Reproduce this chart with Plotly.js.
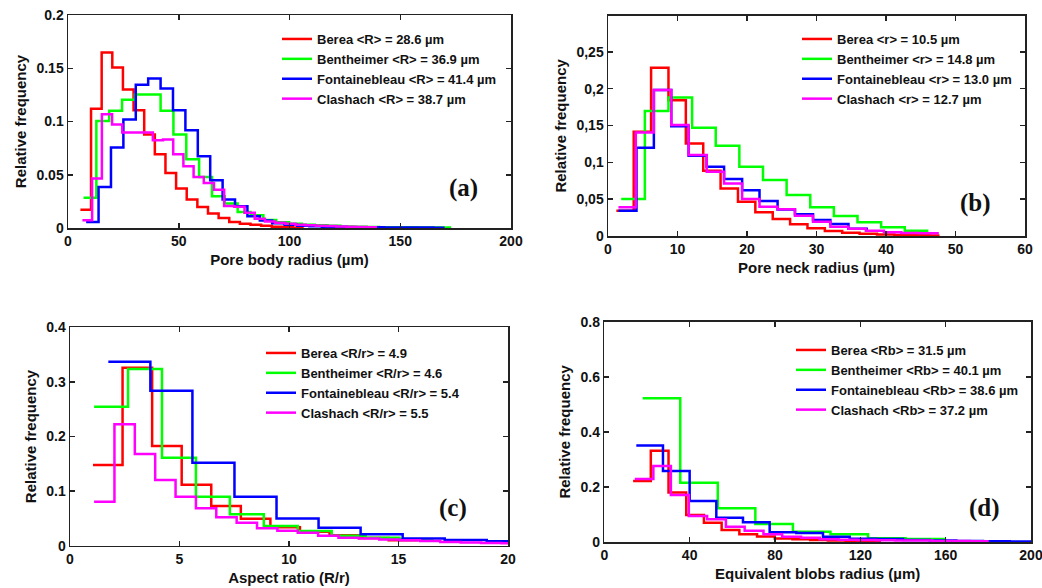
<!DOCTYPE html>
<html><head><meta charset="utf-8">
<script src="https://cdn.plot.ly/plotly-3.0.1.min.js"></script>
<style>html,body{margin:0;padding:0;background:#fff}#chart{width:1042px;height:588px}</style>
</head><body><div id="chart"></div>
<script>
// ---------- DATA ----------
const rocks = ['Berea', 'Bentheimer', 'Fontainebleau', 'Clashach'];
const colors = ['#ff0000', '#00ff00', '#0000ff', '#ff00ff'];

// (a) Pore body radius (µm) – bin edges and relative frequency
const aBereaX = [5.6,10.4,15.2,20.0,24.8,29.6,34.4,39.2,44.0,48.8,53.6,58.4,63.2,68.0,72.8,77.6,82.4,87.2,92.0,96.8,101.6,106.4];
const aBereaY = [0.0172,0.112,0.1647,0.1506,0.130,0.1105,0.0877,0.0692,0.0517,0.037,0.0267,0.0197,0.0135,0.0094,0.0056,0.0041,0.003,0.002,0.0012,0.0006,0.0003];
const aBenthX = [7.0,12.8,18.6,24.4,30.2,36.0,41.8,47.6,53.4,59.2,65.0,70.8,76.6,82.4,88.2,94.0,99.8,105.6,111.4,117.2,123.0,128.8,134.6,140.4,146.2,152.0,157.8,163.6,169.4,173.0];
const aBenthY = [0.0285,0.1005,0.110,0.1205,0.1253,0.1253,0.110,0.0877,0.0645,0.0479,0.0298,0.0229,0.015,0.0119,0.0075,0.0055,0.004,0.003,0.0025,0.002,0.0015,0.0012,0.001,0.0008,0.0007,0.0006,0.0005,0.0005,0.0004];
const aFontX = [8.2,13.8,19.4,25.0,30.6,36.2,41.8,47.4,53.0,58.6,64.2,69.8,75.4,81.0,86.6,92.2,97.8,103.4,109.0,114.6,120.2,125.8,131.4,137.0,142.6,148.2,153.8,159.4,165.0,170.0];
const aFontY = [0.0056,0.0385,0.0755,0.1018,0.1346,0.1403,0.1309,0.1105,0.0917,0.0673,0.0448,0.0267,0.0204,0.011,0.007,0.0045,0.003,0.0022,0.0016,0.0012,0.001,0.0008,0.0007,0.0006,0.0005,0.0005,0.0004,0.0004,0.0003];
const aClasX = [6.5,10.9,15.3,19.9,24.5,29.1,33.7,38.3,42.9,47.5,52.1,56.7,61.3,65.9,70.5,75.1,79.7,84.3,88.9,93.5,98.1,102.7,107.3,111.9,116.5,121.1,125.7,130.3,134.9,139.5];
const aClasY = [0.0072,0.0464,0.1068,0.0971,0.0896,0.0896,0.0896,0.0823,0.083,0.0692,0.058,0.0478,0.0423,0.036,0.0207,0.02,0.0144,0.0088,0.006,0.005,0.004,0.003,0.0025,0.002,0.0018,0.0015,0.0012,0.001,0.0008];
const aLabels = ['Berea &lt;R&gt; = 28.6 µm', 'Bentheimer &lt;R&gt; = 36.9 µm', 'Fontainebleau &lt;R&gt; = 41.4 µm', 'Clashach &lt;R&gt; = 38.7 µm'];

// (b) Pore neck radius (µm)
const bBereaX = [1.2,3.7,6.2,8.7,11.2,13.7,16.2,18.7,21.2,23.7,26.2,28.7,31.2,33.7,36.2,38.7,41.2,43.7,46.2,47.7];
const bBereaY = [0.0344,0.1415,0.2283,0.1844,0.1257,0.0886,0.0646,0.0466,0.0321,0.0231,0.0158,0.0104,0.0068,0.0045,0.003,0.002,0.0015,0.001,0.0008];
const bBenthX = [1.9,5.3,8.7,12.1,15.5,18.9,22.3,25.7,29.1,32.5,35.9,39.3,42.7,46.1];
const bBenthY = [0.0502,0.1695,0.188,0.147,0.1225,0.094,0.076,0.0556,0.0389,0.0271,0.0185,0.0118,0.0072];
const bFontX = [1.5,4.1,6.6,9.1,11.6,14.2,16.7,19.3,21.8,24.4,26.9,29.5,32.0,34.6,37.4];
const bFontY = [0.0344,0.1198,0.198,0.149,0.109,0.094,0.0773,0.062,0.0475,0.036,0.0294,0.0217,0.0163,0.010];
const bClasX = [1.5,4.0,6.6,9.1,11.6,14.2,16.7,19.3,21.8,24.4,26.9,29.5,32.0,34.6,37.1,39.7,42.2,44.8,47.6];
const bClasY = [0.0389,0.1406,0.198,0.1505,0.1099,0.0873,0.0714,0.0502,0.0398,0.0362,0.0276,0.0194,0.0127,0.010,0.0072,0.005,0.004,0.0036];
const bLabels = ['Berea &lt;r&gt; = 10.5 µm', 'Bentheimer &lt;r&gt; = 14.8 µm', 'Fontainebleau &lt;r&gt; = 13.0 µm', 'Clashach &lt;r&gt; = 12.7 µm'];
const bYTickVals = [0, 0.05, 0.1, 0.15, 0.2, 0.25];
const bYTickText = ['0', '0,05', '0,1', '0,15', '0,2', '0,25'];

// (c) Aspect ratio (R/r)
const cBereaX = [1.05,2.4,3.75,5.1,6.45,7.8,9.15,10.5,11.85,13.2,14.55,15.9];
const cBereaY = [0.1478,0.326,0.1826,0.1115,0.0725,0.0495,0.034,0.0256,0.019,0.014,0.01];
const cBenthX = [1.1,2.65,4.2,5.75,7.3,8.85,10.4,11.95,13.5,15.05,16.6];
const cBenthY = [0.2547,0.3237,0.1612,0.0898,0.0574,0.036,0.0269,0.0183,0.0147,0.0116];
const cFontX = [1.75,3.67,5.59,7.51,9.43,11.35,13.27,15.19,17.11,19.03,20.5];
const cFontY = [0.337,0.284,0.152,0.0898,0.050,0.033,0.0208,0.0134,0.0104,0.008];
const cClasX = [1.1,2.03,2.96,3.89,4.82,5.75,6.68,7.61,8.54,9.47,10.4,11.33,12.26,13.19,14.12,15.05,15.98,16.91,17.84,18.77,19.7,20.63];
const cClasY = [0.0806,0.2223,0.168,0.1203,0.0898,0.0684,0.0519,0.0421,0.0318,0.0275,0.0238,0.0183,0.0147,0.013,0.0115,0.01,0.0085,0.007,0.006,0.005,0.0045];
const cLabels = ['Berea &lt;R/r&gt; = 4.9', 'Bentheimer &lt;R/r&gt; = 4.6', 'Fontainebleau &lt;R/r&gt; = 5.4', 'Clashach &lt;R/r&gt; = 5.5'];

// (d) Equivalent blobs radius (µm)
const dBereaX = [13.5,21.8,30.1,38.4,46.7,55.0,63.3,71.6,79.9,88.2,96.5,104.8,113.1,121.4,129.7];
const dBereaY = [0.2215,0.331,0.180,0.098,0.070,0.0436,0.028,0.020,0.013,0.0097,0.007,0.005,0.004,0.003];
const dBenthX = [18.0,35.6,53.2,70.8,88.4,106.0,123.6,141.2,160.0];
const dBenthY = [0.5216,0.2154,0.1222,0.0654,0.0375,0.0278,0.0133,0.011];
const dFontX = [15.0,27.5,40.0,52.5,65.0,77.5,90.0,102.5,115.0,127.5,140.0,152.5,165.0,177.5,190.0,200.0];
const dFontY = [0.350,0.258,0.149,0.0884,0.0714,0.035,0.033,0.0194,0.0121,0.011,0.007,0.005,0.004,0.003,0.002];
const dClasX = [14.3,23.0,31.2,39.6,48.2,57.0,65.8,74.6,83.4,92.2,101.0,109.8,118.6,127.4,136.2,145.0,153.8,162.6,171.4,180.2];
const dClasY = [0.2287,0.276,0.1707,0.094,0.0824,0.0556,0.041,0.0278,0.0194,0.0157,0.0097,0.008,0.007,0.006,0.005,0.005,0.004,0.004,0.003];
const dLabels = ['Berea &lt;Rb&gt; = 31.5 µm', 'Bentheimer &lt;Rb&gt; = 40.1 µm', 'Fontainebleau &lt;Rb&gt; = 38.6 µm', 'Clashach &lt;Rb&gt; = 37.2 µm'];

// ---------- LAYOUT HELPERS ----------
const W = 1042, H = 588;
const px = v => v / W;
const py = v => 1 - v / H;
const SANS = 'Liberation Sans, Arial, sans-serif';
const SERIF = 'Liberation Serif, Times New Roman, serif';
const INK = '#111';

const panels = [
  {key: '', legend: 'legend', series: [[aBereaX,aBereaY],[aBenthX,aBenthY],[aFontX,aFontY],[aClasX,aClasY]], labels: aLabels},
  {key: '2', legend: 'legend2', series: [[bBereaX,bBereaY],[bBenthX,bBenthY],[bFontX,bFontY],[bClasX,bClasY]], labels: bLabels},
  {key: '3', legend: 'legend3', series: [[cBereaX,cBereaY],[cBenthX,cBenthY],[cFontX,cFontY],[cClasX,cClasY]], labels: cLabels},
  {key: '4', legend: 'legend4', series: [[dBereaX,dBereaY],[dBenthX,dBenthY],[dFontX,dFontY],[dClasX,dClasY]], labels: dLabels}
];

const traces = [];
panels.forEach(p => {
  p.series.forEach((s, i) => {
    const [xs, ys] = s;
    traces.push({
      type: 'scatter', mode: 'lines',
      x: xs, y: ys.concat([ys[ys.length - 1]]),
      line: {shape: 'hv', color: colors[i], width: 2.5},
      name: p.labels[i],
      legend: p.legend,
      xaxis: 'x' + p.key, yaxis: 'y' + p.key,
      hoverinfo: 'skip'
    });
  });
});

function axis(domain, range, anchor, title, extra) {
  return Object.assign({
    domain: domain, range: range, anchor: anchor,
    showline: true, linecolor: '#222', linewidth: 1.5, mirror: 'ticks',
    ticks: 'inside', ticklen: 5, tickwidth: 1.5, tickcolor: '#222',
    showgrid: false, zeroline: false, ticklabeloverflow: 'allow', automargin: false,
    tickfont: {family: SANS, size: 14, weight: 'bold', color: INK},
    title: {text: title, font: {family: SANS, size: 15, weight: 'bold', color: INK}, standoff: 6}
  }, extra || {});
}

function legendAt(textX, firstRowY) {
  return {
    x: px(textX - 42), y: py(firstRowY - 15), xanchor: 'left', yanchor: 'top',
    bgcolor: 'rgba(0,0,0,0)', borderwidth: 0,
    font: {family: SANS, size: 13, weight: 'bold', color: INK},
    tracegroupgap: 0
  };
}

function label(text, cx, cy) {
  return {text: text, x: px(cx), y: py(cy), xref: 'paper', yref: 'paper',
    xanchor: 'center', yanchor: 'middle', showarrow: false,
    font: {family: SERIF, size: 25, weight: 'bold', color: INK}};
}

const layout = {
  width: W, height: H,
  margin: {l: 0, r: 0, t: 0, b: 0, autoexpand: false},
  paper_bgcolor: '#fff', plot_bgcolor: '#fff',
  showlegend: true,
  xaxis:  axis([px(68), px(511)], [0, 200], 'y', 'Pore body radius (µm)', {tickvals: [0, 50, 100, 150, 200]}),
  yaxis:  axis([py(228), py(15)], [0, 0.2], 'x', 'Relative frequency', {tickvals: [0, 0.05, 0.1, 0.15, 0.2]}),
  xaxis2: axis([px(608), px(1025)], [0, 60], 'y2', 'Pore neck radius (µm)', {tickvals: [0, 10, 20, 30, 40, 50, 60]}),
  yaxis2: axis([py(236), py(15.7)], [0, 0.299], 'x2', 'Relative frequency', {tickvals: bYTickVals, ticktext: bYTickText}),
  xaxis3: axis([px(70), px(508)], [0, 20], 'y3', 'Aspect ratio (R/r)', {tickvals: [0, 5, 10, 15, 20]}),
  yaxis3: axis([py(545.7), py(327.3)], [0, 0.4], 'x3', 'Relative frequency', {tickvals: [0, 0.1, 0.2, 0.3, 0.4]}),
  xaxis4: axis([px(604.3), px(1031)], [0, 200], 'y4', 'Equivalent blobs radius (µm)', {tickvals: [0, 40, 80, 120, 160, 200]}),
  yaxis4: axis([py(542), py(321.7)], [0, 0.8], 'x4', 'Relative frequency', {tickvals: [0, 0.2, 0.4, 0.6, 0.8]}),
  legend:  legendAt(319, 39),
  legend2: legendAt(839, 39),
  legend3: legendAt(303, 353),
  legend4: legendAt(833, 350),
  annotations: [
    label('(a)', 463, 188),
    label('(b)', 975, 203),
    label('(c)', 453, 508),
    label('(d)', 984, 508)
  ]
};

Plotly.newPlot('chart', traces, layout, {staticPlot: true, displayModeBar: false});
</script></body></html>
